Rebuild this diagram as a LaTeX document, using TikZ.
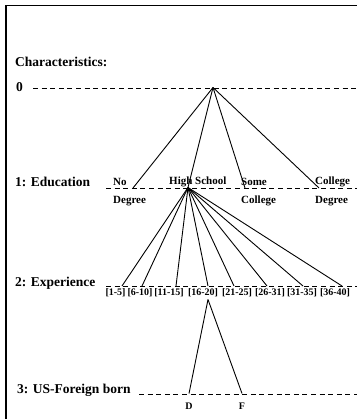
\documentclass[tikz,border=0pt]{standalone}
\usepackage{fontspec}
\setmainfont{Liberation Serif}
\begin{document}
\begin{tikzpicture}[x=1pt,y=-1pt,
  big/.style={font=\fontsize{13.5}{15}\selectfont\bfseries, anchor=west, inner sep=0pt},
  mid/.style={font=\fontsize{11}{12}\selectfont\bfseries, anchor=west, inner sep=0pt},
  small/.style={font=\fontsize{10}{11}\selectfont\bfseries, inner sep=0pt},
  level/.style={line width=0.9pt, dash pattern=on 5pt off 3.6pt},
  branch/.style={line width=0.9pt},
  frame/.style={line width=1.3pt}]
\useasboundingbox (0,0) rectangle (357,419);
\draw[frame] (6,419) -- (6,5.5) -- (357,5.5);

% level 0
\node[big] (char) at (15,62) {Characteristics:};
\node[big] (l0) at (16,87) {0};
\coordinate (a0) at (33,88);
\coordinate (b0) at (357,88);
\draw[level] (a0) -- (b0);
\coordinate (root) at (213,87.5);

% level 1
\node[big] (l1) at (15,182) {1: Education};
\coordinate (a1) at (106,188);
\coordinate (b1) at (357,188);
\draw[level] (a1) -- (b1);
\node[mid] (no) at (113,182) {No};
\node[mid] (nodeg) at (113,201) {Degree};
\node[mid] (hs) at (169,182) {High School};
\node[mid] (some) at (241,182) {Some};
\node[mid] (somecol) at (241,201) {College};
\node[mid] (col) at (315,182) {College};
\node[mid] (coldeg) at (315,201) {Degree};
\coordinate (e1) at (133,188);
\coordinate (e2) at (188,187.5);
\coordinate (e3) at (245,188);
\coordinate (e4) at (319,188);
\foreach \t in {e1,e2,e3,e4} \draw[branch] (root) -- (\t);

% level 2
\node[big] (l2) at (15,283) {2: Experience};
\coordinate (a2) at (106,286);
\coordinate (b2) at (357,286);
\draw[level] (a2) -- (b2);
\foreach \n/\x in {x1/122,x2/142,x3/176,x4/208,x5/234,x6/267,x7/303,x8/342}{
  \coordinate (\n) at (\x,286);
  \draw[branch] (e2) -- (\n);
}
\node[small] (r1) at (115.5,293) {[1-5]};
\node[small] (r2) at (140,293) {[6-10]};
\node[small] (r3) at (169,293) {[11-15]};
\node[small] (r4) at (203,293) {[16-20]};
\node[small] (r5) at (237,293) {[21-25]};
\node[small] (r6) at (270,293) {[26-31]};
\node[small] (r7) at (302,293) {[31-35]};
\node[small] (r8) at (335,293) {[36-40]};
\coordinate (apex) at (208,299.5);

% level 3
\node[big] (l3) at (17,390) {3: US-Foreign born};
\coordinate (a3) at (139,394);
\coordinate (b3) at (357,394);
\draw[level] (a3) -- (b3);
\coordinate (dd) at (189,393.5);
\coordinate (ff) at (242,393.5);
\draw[branch] (apex) -- (dd);
\draw[branch] (apex) -- (ff);
\node[small] (dl) at (189,406) {D};
\node[small] (fl) at (242,406) {F};
\end{tikzpicture}
\end{document}
